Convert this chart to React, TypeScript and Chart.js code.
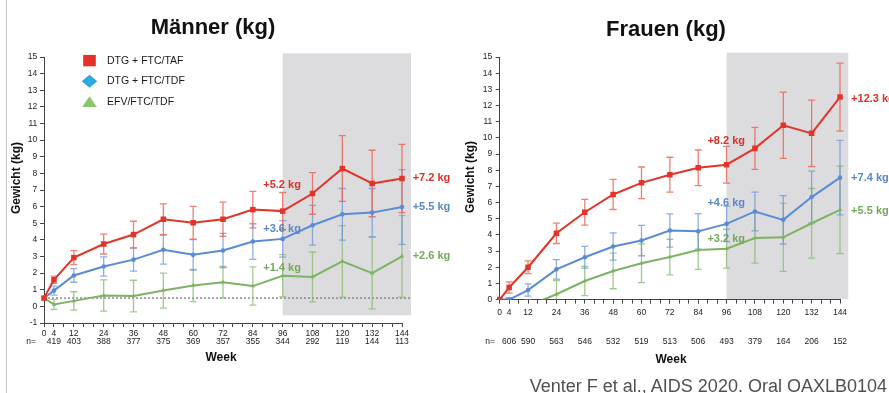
import React, { useEffect, useRef } from "react";
import { Chart, registerables } from "chart.js";

Chart.register(...registerables);

const FONT = '"Liberation Sans", Arial, Helvetica, sans-serif';

// ---------------- data ----------------
const weeks = [0, 4, 12, 24, 36, 48, 60, 72, 84, 96, 108, 120, 132, 144];
const labelledWeeks = [0, 4, 12, 24, 36, 48, 60, 72, 84, 96, 108, 120, 132, 144];
const nWeeks = [4, 12, 24, 36, 48, 60, 72, 84, 96, 108, 120, 132, 144];
const seriesNames = ["DTG + FTC/TAF", "DTG + FTC/TDF", "EFV/FTC/TDF"];

const menN = [419, 403, 388, 377, 375, 369, 357, 355, 344, 292, 119, 144, 113];
const womenN = [606, 590, 563, 546, 532, 519, 513, 506, 493, 379, 164, 206, 152];

const menTaf = [0.5, 1.6, 2.93, 3.75, 4.32, 5.24, 5.03, 5.24, 5.82, 5.73, 6.79, 8.29, 7.39, 7.69];
const menTafErr = [0, 0.22, 0.42, 0.6, 0.8, 0.93, 0.98, 1.03, 1.1, 1.12, 1.25, 1.98, 2.0, 2.05];
const menTdf = [0.5, 0.95, 1.86, 2.4, 2.81, 3.41, 3.1, 3.36, 3.9, 4.06, 4.88, 5.54, 5.64, 5.98];
const menTdfErr = [0, 0.27, 0.41, 0.58, 0.69, 0.87, 0.92, 1.03, 1.07, 1.1, 1.2, 1.55, 1.45, 2.25];
const menEfv = [0.5, 0.12, 0.33, 0.65, 0.62, 0.95, 1.26, 1.45, 1.22, 1.84, 1.77, 2.71, 2.0, 3.01];
const menEfvErr = [0, 0.3, 0.55, 0.94, 0.95, 1.05, 0.97, 0.95, 1.15, 1.27, 1.5, 2.15, 2.15, 2.45];

const womenTaf = [0, 0.75, 2.0, 4.1, 5.4, 6.5, 7.22, 7.72, 8.15, 8.34, 9.35, 10.78, 10.28, 12.52];
const womenTafErr = [0, 0.35, 0.4, 0.63, 0.8, 0.93, 0.98, 1.08, 1.1, 1.14, 1.3, 2.05, 2.05, 2.1];
const womenTdf = [0, 0, 0.59, 1.87, 2.62, 3.28, 3.65, 4.27, 4.22, 4.68, 5.45, 4.93, 6.34, 7.54];
const womenTdfErr = [0, 0.1, 0.38, 0.6, 0.67, 0.84, 0.94, 1.03, 1.1, 1.1, 1.2, 1.5, 1.6, 2.3];
const womenEfv = [0, -0.2, -0.4, 0.33, 1.15, 1.77, 2.25, 2.63, 3.07, 3.15, 3.81, 3.85, 4.72, 5.55];
const womenEfvErr = [0, 0.3, 0.4, 0.85, 0.9, 1.1, 1.2, 1.1, 1.2, 1.2, 1.55, 2.1, 2.15, 2.7];

const menMidLabels = ["+5.2 kg", "+3.6 kg", "+1.4 kg"];
const menEndLabels = ["+7.2 kg", "+5.5 kg", "+2.6 kg"];
const womenMidLabels = ["+8.2 kg", "+4.6 kg", "+3.2 kg"];
const womenEndLabels = ["+12.3 kg", "+7.4 kg", "+5.5 kg"];

// ---------------- styles ----------------
const STYLES = [
  { line: "#e3342a", err: "rgba(234,95,80,0.8)", label: "#dc2f27", point: "rect", radius: 3.9, legend: "#e8302a" },
  { line: "#5a8bd5", err: "rgba(105,148,216,0.75)", label: "#5b86c9", point: "circle", radius: 2.3, legend: "#2ea8e1" },
  { line: "#7db364", err: "rgba(140,186,115,0.8)", label: "#74a85a", point: "triangle", radius: 2.5, legend: "#8dc56c" },
];

type Cfg = {
  left: number;
  width: number;
  title: string;
  titleX: number;
  titleY: number;
  yMin: number;
  yMax: number;
  padTop: number;
  padRight: number;
  yWidth: number;
  xHeight: number;
  xTickPad: number;
  yTickPad: number;
  yTitleX: number;
  yTitleY: number;
  weekX: number;
  weekY: number;
  nLabelX: number;
  nY: number;
  n: number[];
  box: { from: number; to: number; top: number; bottom: number };
  baseline: number | null;
  legend: boolean;
  series: { values: number[]; err: number[] }[];
  midLabels: string[];
  endLabels: string[];
  midLabelWeek: number;
  endLabelWeek: number;
  midLabelY: number[];
  endLabelY: number[];
  clipBottom: number;
};

const menCfg: Cfg = {
  left: 0,
  width: 480,
  title: "Männer (kg)",
  titleX: 213,
  titleY: 28,
  yMin: -1,
  yMax: 15,
  padTop: 57,
  padRight: 78,
  yWidth: 44,
  xHeight: 70,
  xTickPad: 1.5,
  yTickPad: 2.8,
  yTitleX: 17,
  yTitleY: 178,
  weekX: 221,
  weekY: 358,
  nLabelX: 31,
  nY: 342,
  n: menN,
  box: { from: 96, to: 147.6, top: 15.22, bottom: -0.54 },
  baseline: 0.5,
  legend: true,
  series: [
    { values: menTaf, err: menTafErr },
    { values: menTdf, err: menTdfErr },
    { values: menEfv, err: menEfvErr },
  ],
  midLabels: menMidLabels,
  endLabels: menEndLabels,
  midLabelWeek: 88.2,
  endLabelWeek: 148.3,
  midLabelY: [7.3, 4.64, 2.29],
  endLabelY: [7.7, 5.96, 3.03],
  clipBottom: 0,
};

const womenCfg: Cfg = {
  left: 445,
  width: 444,
  title: "Frauen (kg)",
  titleX: 221,
  titleY: 30,
  yMin: 0,
  yMax: 15,
  padTop: 57,
  padRight: 49,
  yWidth: 54.7,
  xHeight: 93.4,
  xTickPad: 3.5,
  yTickPad: 3.5,
  yTitleX: 26,
  yTitleY: 177,
  weekX: 226,
  weekY: 360,
  nLabelX: 45,
  nY: 342,
  n: womenN,
  box: { from: 96, to: 147.5, top: 15.27, bottom: 0.03 },
  baseline: null,
  legend: false,
  series: [
    { values: womenTaf, err: womenTafErr },
    { values: womenTdf, err: womenTdfErr },
    { values: womenEfv, err: womenEfvErr },
  ],
  midLabels: womenMidLabels,
  endLabels: womenEndLabels,
  midLabelWeek: 87.9,
  endLabelWeek: 148.7,
  midLabelY: [9.83, 5.99, 3.77],
  endLabelY: [12.41, 7.5, 5.48],
  clipBottom: 0,
};

function WeightChart({ cfg }: { cfg: Cfg }) {
  const ref = useRef<HTMLCanvasElement>(null);

  useEffect(() => {
    const canvas = ref.current;
    if (!canvas) return;

    const overlay = {
      id: "overlay",
      beforeDraw(chart: any) {
        const { ctx, scales } = chart;
        const x = scales.x;
        const y = scales.y;
        ctx.save();
        ctx.fillStyle = "#dcdcde";
        const x0 = x.getPixelForValue(cfg.box.from);
        const x1 = x.getPixelForValue(cfg.box.to);
        const y0 = y.getPixelForValue(cfg.box.top);
        const y1 = y.getPixelForValue(cfg.box.bottom);
        ctx.fillRect(x0, y0, x1 - x0, y1 - y0);
        ctx.restore();
      },
      beforeDatasetsDraw(chart: any) {
        const { ctx, scales, chartArea } = chart;
        const x = scales.x;
        const y = scales.y;
        ctx.save();
        if (cfg.baseline !== null) {
          ctx.strokeStyle = "#7a7a7a";
          ctx.lineWidth = 1.3;
          ctx.setLineDash([2, 2]);
          const by = y.getPixelForValue(cfg.baseline);
          ctx.beginPath();
          ctx.moveTo(chartArea.left, by);
          ctx.lineTo(x.getPixelForValue(cfg.box.to), by);
          ctx.stroke();
          ctx.setLineDash([]);
        }
        ctx.beginPath();
        ctx.rect(
          chartArea.left - 10,
          chartArea.top - 10,
          chartArea.right - chartArea.left + 20,
          chartArea.bottom - chartArea.top + 10
        );
        ctx.clip();
        for (let si = cfg.series.length - 1; si >= 0; si--) {
          const s = cfg.series[si];
          ctx.strokeStyle = STYLES[si].err;
          ctx.lineWidth = 1.3;
          weeks.forEach((w, i) => {
            const e = s.err[i];
            if (!e) return;
            const px = x.getPixelForValue(w);
            const top = y.getPixelForValue(s.values[i] + e);
            const bot = y.getPixelForValue(s.values[i] - e);
            ctx.beginPath();
            ctx.moveTo(px, top);
            ctx.lineTo(px, bot);
            ctx.moveTo(px - 3.5, top);
            ctx.lineTo(px + 3.5, top);
            ctx.moveTo(px - 3.5, bot);
            ctx.lineTo(px + 3.5, bot);
            ctx.stroke();
          });
        }
        ctx.restore();
      },
      afterDraw(chart: any) {
        const { ctx, scales } = chart;
        const x = scales.x;
        const y = scales.y;
        ctx.save();
        ctx.textBaseline = "middle";
        ctx.textAlign = "center";
        ctx.fillStyle = "#111";
        ctx.font = `bold 22px ${FONT}`;
        ctx.fillText(cfg.title, cfg.titleX, cfg.titleY);

        ctx.save();
        ctx.translate(cfg.yTitleX, cfg.yTitleY);
        ctx.rotate(-Math.PI / 2);
        ctx.font = `bold 12px ${FONT}`;
        ctx.fillText("Gewicht (kg)", 0, 0);
        ctx.restore();

        ctx.font = `bold 12px ${FONT}`;
        ctx.fillText("Week", cfg.weekX, cfg.weekY);

        ctx.font = `8.5px ${FONT}`;
        ctx.fillStyle = "#222";
        ctx.fillText("n=", cfg.nLabelX, cfg.nY);
        nWeeks.forEach((w, i) => {
          ctx.fillText(String(cfg.n[i]), x.getPixelForValue(w), cfg.nY);
        });

        ctx.font = `bold 11px ${FONT}`;
        ctx.textAlign = "left";
        cfg.series.forEach((_, i) => {
          ctx.fillStyle = STYLES[i].label;
          ctx.fillText(
            cfg.midLabels[i],
            x.getPixelForValue(cfg.midLabelWeek),
            y.getPixelForValue(cfg.midLabelY[i])
          );
          ctx.fillText(
            cfg.endLabels[i],
            x.getPixelForValue(cfg.endLabelWeek),
            y.getPixelForValue(cfg.endLabelY[i])
          );
        });

        if (cfg.legend) {
          const lx = 89.5;
          const ys = [60.6, 81.3, 101.8];
          ctx.fillStyle = STYLES[0].legend;
          ctx.fillRect(lx - 6.3, ys[0] - 5.7, 12.6, 11.4);
          ctx.fillStyle = STYLES[1].legend;
          ctx.beginPath();
          ctx.moveTo(lx, ys[1] - 6.5);
          ctx.lineTo(lx + 7.8, ys[1]);
          ctx.lineTo(lx, ys[1] + 6.5);
          ctx.lineTo(lx - 7.8, ys[1]);
          ctx.closePath();
          ctx.fill();
          ctx.fillStyle = STYLES[2].legend;
          ctx.beginPath();
          ctx.moveTo(lx, ys[2] - 5.6);
          ctx.lineTo(lx + 7.4, ys[2] + 5.3);
          ctx.lineTo(lx - 7.4, ys[2] + 5.3);
          ctx.closePath();
          ctx.fill();
          ctx.fillStyle = "#1a1a1a";
          ctx.font = `10.5px ${FONT}`;
          ctx.textAlign = "left";
          seriesNames.forEach((nm, i) => ctx.fillText(nm, 107, ys[i] + 0.3));
        }
        ctx.restore();
      },
    };

    const chart = new Chart(canvas, {
      type: "line",
      data: {
        datasets: cfg.series.map((s, i) => ({
          label: seriesNames[i],
          data: weeks.map((w, j) => ({ x: w, y: s.values[j] })),
          borderColor: STYLES[i].line,
          backgroundColor: STYLES[i].line,
          borderWidth: 2,
          pointStyle: STYLES[i].point as any,
          pointRadius: STYLES[i].radius,
          pointBackgroundColor: STYLES[i].line,
          pointBorderColor: STYLES[i].line,
          pointBorderWidth: 0,
          tension: 0,
          clip: { left: 8, right: 8, top: 8, bottom: cfg.clipBottom } as any,
        })),
      },
      options: {
        responsive: false,
        animation: false,
        devicePixelRatio: 1,
        events: [],
        layout: { padding: { left: 0, top: cfg.padTop, right: cfg.padRight, bottom: 0 } },
        plugins: {
          legend: { display: false },
          tooltip: { enabled: false },
          title: { display: false },
        },
        scales: {
          x: {
            type: "linear",
            min: 0,
            max: 144,
            afterFit: (s: any) => {
              s.height = cfg.xHeight;
            },
            grid: { drawOnChartArea: false, drawTicks: true, tickLength: 4, color: "#444" },
            border: { color: "#444", width: 1 },
            ticks: {
              stepSize: 4,
              autoSkip: false,
              maxRotation: 0,
              minRotation: 0,
              padding: cfg.xTickPad,
              color: "#222",
              font: { family: FONT, size: 8.5 },
              callback: (v: any) => (labelledWeeks.includes(Number(v)) ? String(v) : ""),
            },
          },
          y: {
            type: "linear",
            min: cfg.yMin,
            max: cfg.yMax,
            afterFit: (s: any) => {
              s.width = cfg.yWidth;
            },
            grid: { drawOnChartArea: false, drawTicks: true, tickLength: 4, color: "#444" },
            border: { color: "#444", width: 1 },
            ticks: {
              stepSize: 1,
              autoSkip: false,
              padding: cfg.yTickPad,
              color: "#222",
              font: { family: FONT, size: 8.5 },
            },
          },
        },
      },
      plugins: [overlay],
    } as any);

    return () => chart.destroy();
  }, [cfg]);

  return (
    <canvas
      ref={ref}
      width={cfg.width}
      height={393}
      style={{ position: "absolute", left: cfg.left, top: 0, width: cfg.width, height: 393 }}
    />
  );
}

export default function App() {
  return (
    <div
      style={{
        position: "absolute",
        left: 0,
        top: 0,
        width: 889,
        height: 393,
        background: "#fff",
        overflow: "hidden",
      }}
    >
      <div style={{ position: "absolute", left: 6, top: 0, width: 1, height: 393, background: "#c9c9c9" }} />
      <WeightChart cfg={womenCfg} />
      <WeightChart cfg={menCfg} />
      <div
        style={{
          position: "absolute",
          right: 2,
          top: 376,
          font: `18px ${FONT}`,
          lineHeight: "20px",
          color: "#505050",
          whiteSpace: "nowrap",
        }}
      >
        Venter F et al., AIDS 2020. Oral OAXLB0104
      </div>
    </div>
  );
}
